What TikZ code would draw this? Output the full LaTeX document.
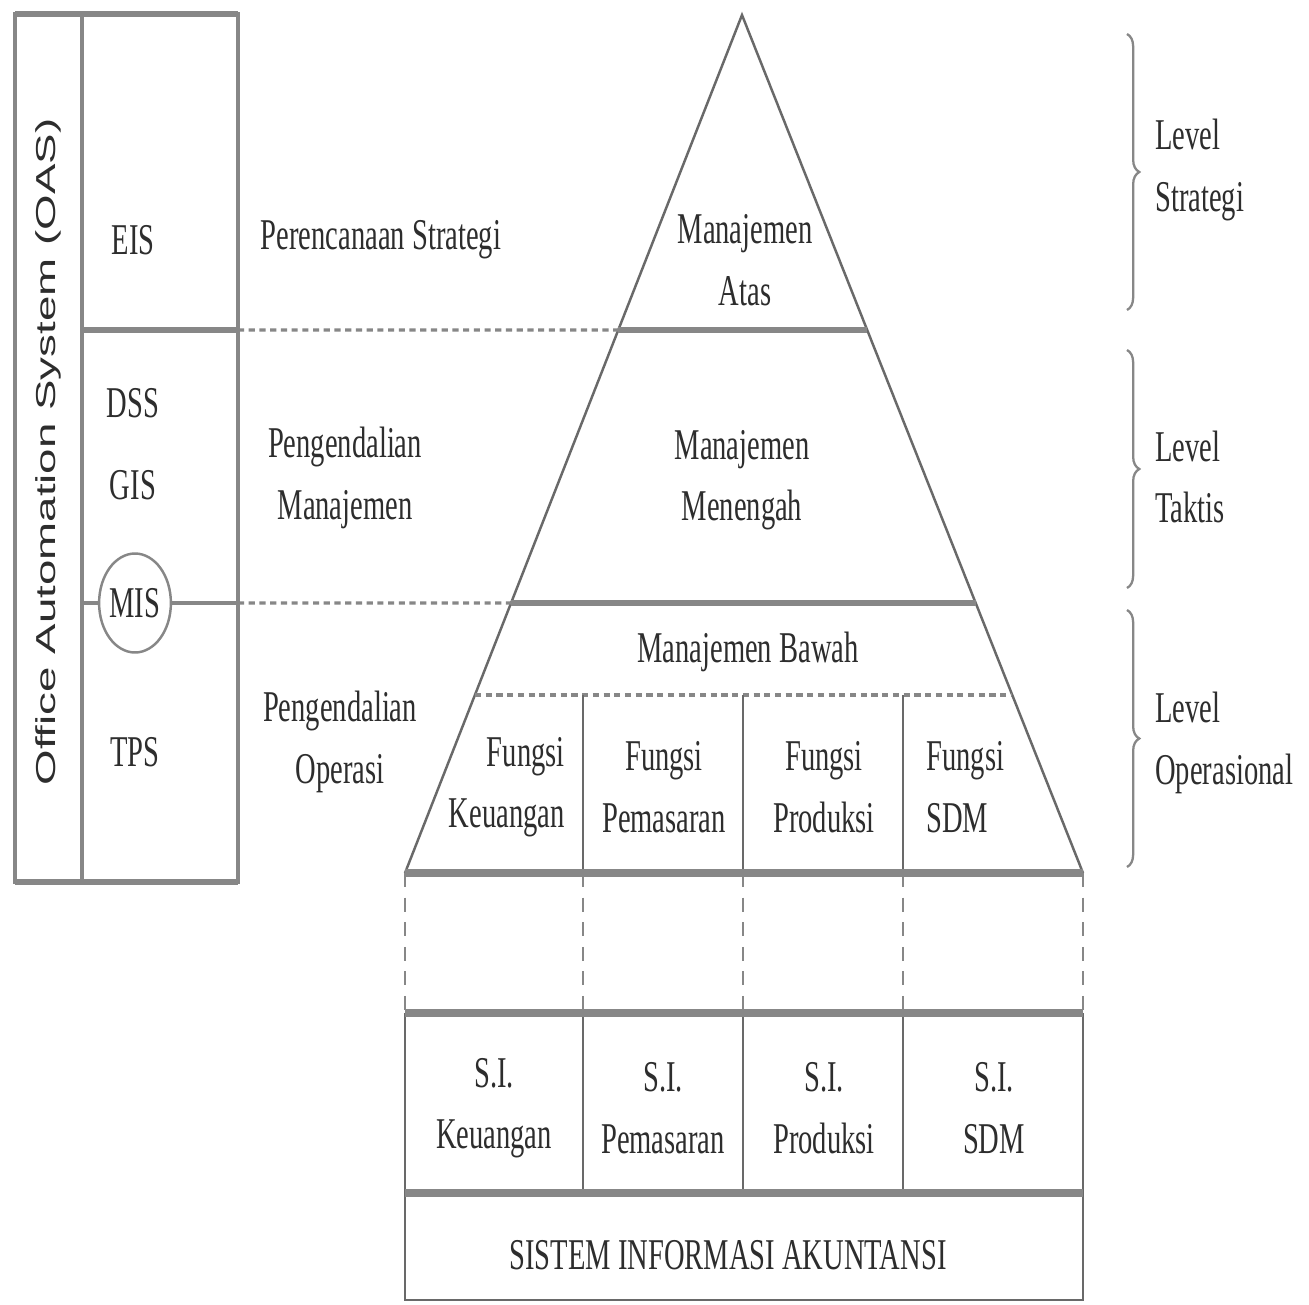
\documentclass[tikz,border=0pt]{standalone}
\usepackage{fontspec}
\usepackage{graphicx}
\setmainfont{Liberation Serif}[FakeStretch=0.65]
\newfontfamily\oasfont{Liberation Sans}
\usetikzlibrary{calc,decorations.pathreplacing,shapes.geometric}
\definecolor{linegray}{RGB}{135,135,135}
\definecolor{sidegray}{RGB}{105,105,105}
\definecolor{textgray}{RGB}{45,45,45}
\tikzset{
  frameline/.style={draw=linegray, line width=2.2pt},
  thickline/.style={draw=linegray, line width=3.6pt},
  sideline/.style={draw=sidegray, line width=1.4pt},
  cellline/.style={draw=sidegray, line width=1.5pt},
  dotline/.style={draw=linegray, line width=1.8pt, dash pattern=on 3.5pt off 2.6pt},
  dashline/.style={draw=linegray, line width=1.6pt, dash pattern=on 8pt off 6pt},
  lbl/.style={font=\fontsize{25}{35}\selectfont, align=center, inner sep=0pt, text=textgray},
  bracestyle/.style={draw=linegray, line width=1.3pt, decorate, decoration={brace, amplitude=7pt, aspect=0.5}}
}
\begin{document}
\begin{tikzpicture}[x=0.02cm, y=-0.02cm]
\useasboundingbox[fill=white] (0,0) rectangle (1309,1305);

% ---------- left box ----------
\coordinate (boxtl) at (15,14);
\coordinate (boxbr) at (238,882);
\coordinate (innertop) at (82,14);
\coordinate (innerbot) at (82,882);
\draw[frameline] (boxtl) rectangle (boxbr);
\draw[thickline] (15,14) -- (238,14);
\draw[thickline] (15,882) -- (238,882);
\draw[frameline] (innertop) -- (innerbot);

% ---------- pyramid ----------
\coordinate (apex) at (742,15);
\coordinate (bl) at (405,873);
\coordinate (br) at (1083,873);
\coordinate (l1) at ($(apex)!0.3671!(bl)$);
\coordinate (r1) at ($(apex)!0.3671!(br)$);
\coordinate (l2) at ($(apex)!0.6853!(bl)$);
\coordinate (r2) at ($(apex)!0.6853!(br)$);
\coordinate (l3) at ($(apex)!0.7925!(bl)$);
\coordinate (r3) at ($(apex)!0.7925!(br)$);
\draw[sideline] (bl) -- (apex) -- (br);

% separators of the left box and links to the pyramid
\coordinate (eisL) at (82,330);
\coordinate (eisR) at (238,330);
\coordinate (misL) at (82,603);
\coordinate (misR) at (238,603);
\draw[thickline] (eisL) -- (eisR);
\draw[dotline] (eisR) -- (l1);
\draw[frameline] (misL) -- (misR);
\draw[dotline] (misR) -- (l2);

\draw[thickline] (l1) -- (r1);
\draw[thickline] (l2) -- (r2);
\draw[dotline] (l3) -- (r3);

% function cells
\coordinate (v1t) at (583,695);
\coordinate (v2t) at (743,695);
\coordinate (v3t) at (903,695);
\coordinate (v1b) at (583,873);
\coordinate (v2b) at (743,873);
\coordinate (v3b) at (903,873);
\draw[cellline] (v1t) -- (v1b);
\draw[cellline] (v2t) -- (v2b);
\draw[cellline] (v3t) -- (v3b);
\draw[thickline, line width=4pt] (bl) -- (br);

% dashed links down to the table
\coordinate (t0) at (405,1013);
\coordinate (t1) at (583,1013);
\coordinate (t2) at (743,1013);
\coordinate (t3) at (903,1013);
\coordinate (t4) at (1083,1013);
\draw[dashline] (bl) -- (t0);
\draw[dashline] (v1b) -- (t1);
\draw[dashline] (v2b) -- (t2);
\draw[dashline] (v3b) -- (t3);
\draw[dashline] (br) -- (t4);

% ---------- table ----------
\coordinate (m0) at (405,1193);
\coordinate (m1) at (583,1193);
\coordinate (m2) at (743,1193);
\coordinate (m3) at (903,1193);
\coordinate (m4) at (1083,1193);
\coordinate (b0) at (405,1300);
\coordinate (b4) at (1083,1300);
\draw[cellline] (t0) -- (b0) -- (b4) -- (t4);
\draw[cellline] (t1) -- (m1);
\draw[cellline] (t2) -- (m2);
\draw[cellline] (t3) -- (m3);
\draw[thickline, line width=4pt] (t0) -- (t4);
\draw[thickline, line width=4pt] (m0) -- (m4);

% ---------- braces ----------
\coordinate (s1a) at (1127,34);
\coordinate (s1b) at (1127,310);
\coordinate (s2a) at (1127,350);
\coordinate (s2b) at (1127,588);
\coordinate (s3a) at (1127,610);
\coordinate (s3b) at (1127,867);
\draw[bracestyle] (s1a) -- (s1b);
\draw[bracestyle] (s2a) -- (s2b);
\draw[bracestyle] (s3a) -- (s3b);

% ---------- texts ----------
\node[rotate=90, font=\oasfont\fontsize{26}{30}\selectfont, text=textgray, inner sep=0pt] (oas) at (48,452) {\scalebox{1}[0.6]{Office Automation System (OAS)}};

\node[lbl] (eis) at (133,240) {EIS};
\node[lbl] (dss) at (133,403) {DSS};
\node[lbl] (gis) at (133,485) {GIS};
\node[draw=linegray, line width=1.4pt, ellipse, fill=white, inner sep=0pt, minimum width=1.4cm, minimum height=1.98cm, font=\fontsize{25}{35}\selectfont, text=textgray] (mis) at (135,603) {MIS};
\node[lbl] (tps) at (135,752) {TPS};

\node[lbl] (pstr) at (381,240) {Perencanaan Strategi};
\node[lbl] (pman) at (345,478) {Pengendalian\\Manajemen};
\node[lbl] (pops) at (340,742) {Pengendalian\\Operasi};

\node[lbl] (atas) at (745,260) {Manajemen\\Atas};
\node[lbl] (mene) at (742,480) {Manajemen\\Menengah};
\node[lbl] (bawah) at (748,652) {Manajemen Bawah};

\node[lbl, align=right, anchor=east] (fkeu) at (565,787) {Fungsi\\Keuangan};
\node[lbl] (fpem) at (664,787) {Fungsi\\Pemasaran};
\node[lbl] (fpro) at (824,787) {Fungsi\\Produksi};
\node[lbl, align=left, anchor=west] (fsdm) at (926,787) {Fungsi\\SDM};

\node[lbl] (skeu) at (494,1108) {S.I.\\Keuangan};
\node[lbl] (spem) at (663,1108) {S.I.\\Pemasaran};
\node[lbl] (spro) at (824,1108) {S.I.\\Produksi};
\node[lbl] (ssdm) at (994,1108) {S.I.\\SDM};

\node[lbl] (sia) at (728,1255) {SISTEM INFORMASI AKUNTANSI};

\node[lbl, align=left, anchor=west] (lv1) at (1155,170) {Level\\Strategi};
\node[lbl, align=left, anchor=west] (lv2) at (1155,477) {Level\\Taktis};
\node[lbl, align=left, anchor=west] (lv3) at (1155,743) {Level\\Operasional};
\end{tikzpicture}
\end{document}
